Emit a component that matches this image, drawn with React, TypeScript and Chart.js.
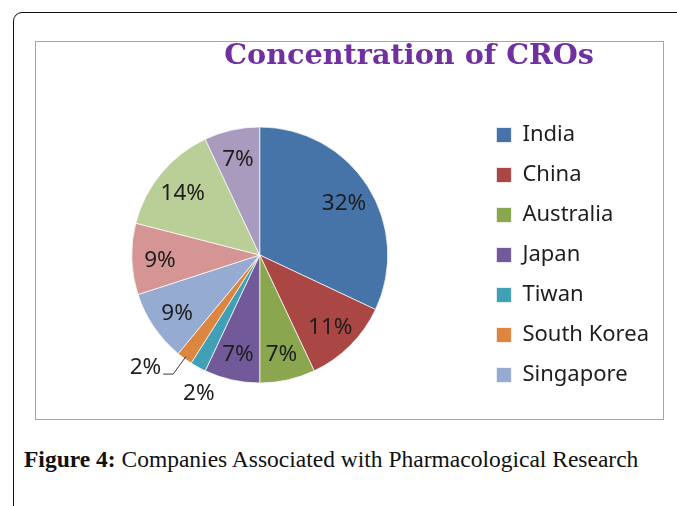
import { useEffect, useRef } from 'react';
import { Chart, registerables } from 'chart.js';

Chart.register(...registerables);

const TITLE = 'Concentration of CROs';
const categories = ['India', 'China', 'Australia', 'Japan', 'Tiwan', 'South Korea', 'Singapore', 'Slice 8', 'Slice 9', 'Slice 10'];
const values = [32, 11, 7, 7, 2, 2, 9, 9, 14, 7];
const colors = ['#4673A8', '#AA4744', '#8AA64F', '#72599A', '#41A0B5', '#DD8640', '#96ABD2', '#D49594', '#BACF98', '#A99BBD'];
const legendCount = 7;
const leaderCategories = ['South Korea'];

const labelPlugin = {
  id: 'pctLabels',
  afterDatasetsDraw(chart: any) {
    const meta = chart.getDatasetMeta(0);
    const data = chart.data.datasets[0].data as number[];
    const total = data.reduce((a, b) => a + b, 0);
    const ctx = chart.ctx as CanvasRenderingContext2D;
    ctx.save();
    ctx.font = '22.5px "Noto Sans"';
    ctx.fillStyle = '#1e1e1e';
    ctx.textBaseline = 'middle';
    meta.data.forEach((el: any, i: number) => {
      const { x, y, startAngle, endAngle, outerRadius } = el.getProps(['x', 'y', 'startAngle', 'endAngle', 'outerRadius'], true);
      const mid = (startAngle + endAngle) / 2;
      const c = Math.cos(mid);
      const s = Math.sin(mid);
      const text = Math.round((data[i] / total) * 100) + '%';
      if (leaderCategories.includes(categories[i])) {
        const sx = x + c * outerRadius * 0.98;
        const sy = y + s * outerRadius * 0.98;
        const ex = x + c * outerRadius * 1.15;
        const ey = y + s * outerRadius * 1.15;
        const dir = c < 0 ? -1 : 1;
        const hx = ex + dir * 10;
        ctx.strokeStyle = '#3a3a3a';
        ctx.lineWidth = 1;
        ctx.beginPath();
        ctx.moveTo(sx, sy);
        ctx.lineTo(ex, ey);
        ctx.lineTo(hx, ey);
        ctx.stroke();
        ctx.textAlign = dir < 0 ? 'right' : 'left';
        ctx.fillText(text, hx + dir * 2, ey - 6);
      } else if (data[i] / total < 0.03) {
        ctx.textAlign = 'center';
        ctx.fillText(text, x + c * outerRadius * 1.15 + 10, y + s * outerRadius * 1.2 + 4);
      } else {
        ctx.textAlign = 'center';
        ctx.fillText(text, x + c * outerRadius * 0.78, y + s * outerRadius * 0.78 + 2);
      }
    });
    ctx.restore();
  },
};

const titlePlugin = {
  id: 'figTitle',
  afterDraw(chart: any) {
    const ctx = chart.ctx as CanvasRenderingContext2D;
    ctx.save();
    ctx.font = 'bold 28.7px "DejaVu Serif"';
    ctx.fillStyle = '#7030A0';
    ctx.textAlign = 'center';
    ctx.textBaseline = 'alphabetic';
    ctx.fillText(TITLE, chart.width * 0.595, 21.5);
    ctx.restore();
  },
};

export default function App() {
  const ref = useRef<HTMLCanvasElement | null>(null);

  useEffect(() => {
    if (!ref.current) return;
    const chart = new Chart(ref.current, {
      type: 'pie',
      data: {
        labels: categories,
        datasets: [
          {
            data: values,
            backgroundColor: colors,
            borderColor: 'rgba(255,255,255,0.7)',
            borderWidth: 1,
          },
        ],
      },
      options: {
        animation: false,
        responsive: false,
        devicePixelRatio: 1,
        radius: 128,
        layout: { padding: { left: 5, right: 4, top: 60, bottom: 11 } },
        plugins: {
          tooltip: { enabled: false },
          title: { display: false },
          legend: {
            display: true,
            position: 'right',
            labels: {
              filter: (item: any) => item.index < legendCount,
              boxWidth: 15,
              boxHeight: 15,
              padding: 18,
              color: '#1e1e1e',
              font: { family: '"Noto Sans"', size: 22 },
            },
          },
        },
      } as any,
      plugins: [labelPlugin, titlePlugin],
    });
    return () => chart.destroy();
  }, []);

  return (
    <div style={{ position: 'absolute', left: 0, top: 0, width: 677, height: 506, overflow: 'hidden', background: '#fff' }}>
      <div
        style={{
          position: 'absolute',
          left: 13,
          top: 12,
          width: 720,
          height: 560,
          border: '1.5px solid #111',
          borderTopLeftRadius: 9,
          boxSizing: 'border-box',
        }}
      />
      <div
        style={{
          position: 'absolute',
          left: 35,
          top: 41,
          width: 629,
          height: 379,
          border: '1px solid #A6A6A6',
          boxSizing: 'border-box',
          background: '#fff',
        }}
      />
      <canvas ref={ref} width={627} height={377} style={{ position: 'absolute', left: 36, top: 42, width: 627, height: 377 }} />
      <div
        style={{
          position: 'absolute',
          left: 24,
          top: 446,
          fontFamily: '"Liberation Serif", serif',
          fontSize: 23.5,
          color: '#111',
          whiteSpace: 'nowrap',
        }}
      >
        <b>Figure 4:</b> Companies Associated with Pharmacological Research
      </div>
    </div>
  );
}
